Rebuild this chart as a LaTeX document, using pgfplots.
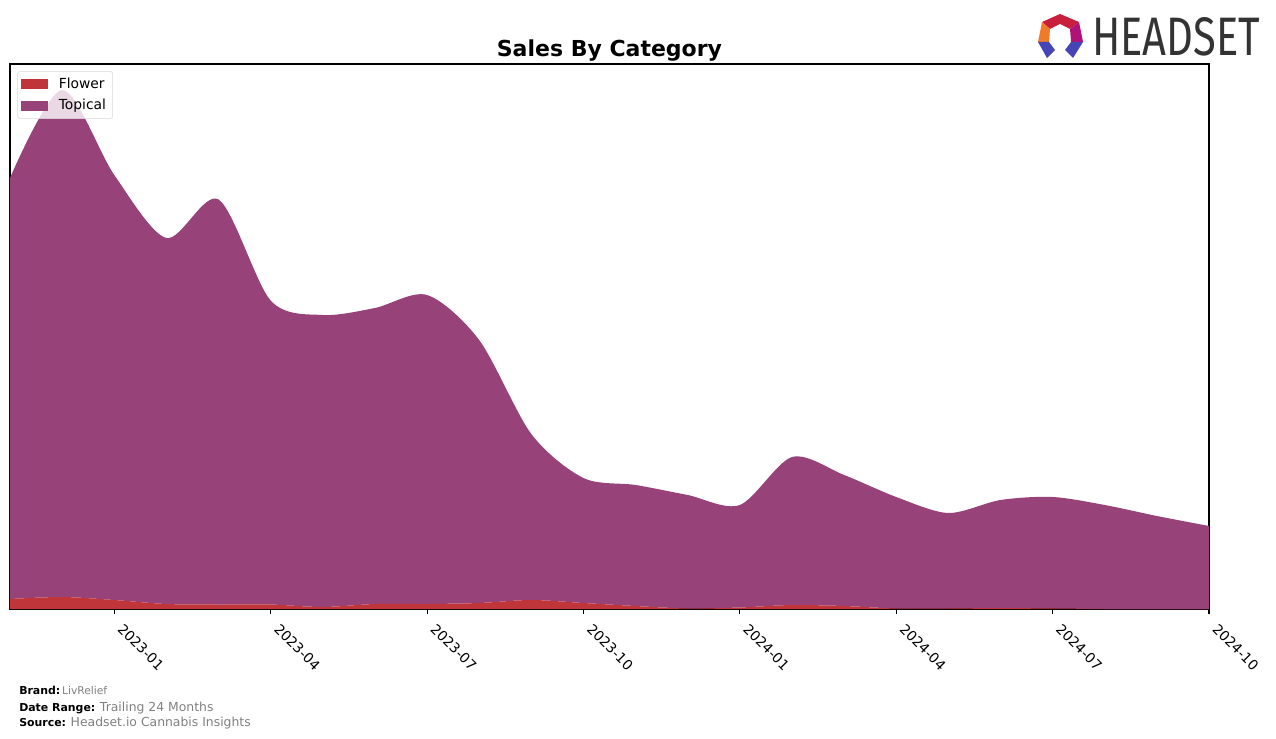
\documentclass[border=0pt]{standalone}
\usepackage{fontspec}
\setmainfont{DejaVu Sans}
\newfontfamily\logofont{Fira Sans}
\usepackage{pgfplots}
\pgfplotsset{compat=1.18}
\definecolor{topc}{HTML}{974278}
\definecolor{flowc}{HTML}{C0353A}
\definecolor{footgray}{HTML}{808080}
\definecolor{lgred}{HTML}{C8203C}
\definecolor{lgorange}{HTML}{F07A28}
\definecolor{lgmag}{HTML}{B0127A}
\definecolor{lgblue}{HTML}{4545B5}
\definecolor{lgtext}{HTML}{333333}
\pgfplotstableread{
i flower topical
0 10 421
1 12 507
2 9 425
3 5 366
4 4.5 405
5 4.5 304
6 2 292
7 5 296
8 5 309
9 6 263
10 9 166
11 6 125
12 3 121
13 0.5 113.5
14 1.5 102.5
15 4 148
16 3 131
17 0.5 111.5
18 0.5 95.5
19 1 108
20 0.5 111.5
21 0 104
22 0 93
23 0 83
}\datatable
\begin{document}
\begin{tikzpicture}
\useasboundingbox (-7.5pt,-96.75pt) rectangle (949.5pt,456.75pt);
\begin{axis}[
  at={(0pt,0pt)}, anchor=south west,
  scale only axis, width=899.25pt, height=408.75pt,
  xmin=0, xmax=23, ymin=0, ymax=545,
  stack plots=y,
  axis line style={black, line width=0.8pt},
  xtick={2,5,8,11,14,17,20,23},
  xticklabels={2023-01,2023-04,2023-07,2023-10,2024-01,2024-04,2024-07,2024-10},
  ytick=\empty,
  xtick pos=bottom,
  tick align=outside,
  major tick length=3.5pt,
  every tick/.style={black, line width=0.8pt},
  xticklabel style={font=\fontsize{10.4}{12}\selectfont, rotate=-45, anchor=north west, inner sep=1pt, xshift=9pt, yshift=1.5pt},
  legend style={at={(0.006,0.987)}, anchor=north west, draw=black!15, rounded corners=2pt, fill=white, fill opacity=0.8, text opacity=1, font=\fontsize{10.4}{12}\selectfont, row sep=2.6pt, inner xsep=3pt, inner ysep=3pt},
  legend cell align=left,
  clip=true,
]
\addplot[fill=flowc, draw=none, smooth, legend image code/.code={\fill[flowc, fill opacity=1, sharp corners] (1pt,-3.7pt) rectangle (21pt,3.7pt); \path (27pt,0pt);}] table[x=i, y=flower] {\datatable} \closedcycle;
\addlegendentry{Flower}
\addplot[fill=topc, draw=none, smooth, legend image code/.code={\fill[topc, fill opacity=1, sharp corners] (1pt,-3.7pt) rectangle (21pt,3.7pt); \path (27pt,0pt);}] table[x=i, y=topical] {\datatable} \closedcycle;
\addlegendentry{Topical}
\end{axis}
% title
\node[anchor=base, inner sep=0, font=\fontsize{16.5}{19}\selectfont\bfseries] at (449.6pt,414pt) {Sales By Category};
% footer
\node[anchor=base west, inner sep=0] at (6.75pt,-63.75pt) {\fontsize{8.2}{9}\selectfont\textbf{Brand:}\,{\color{footgray}\fontsize{8}{9}\selectfont LivRelief}};
\node[anchor=base west, inner sep=0] at (6.75pt,-76.5pt) {\fontsize{8.2}{9}\selectfont\textbf{Date Range:} {\color{footgray}\fontsize{9.3}{9}\selectfont Trailing 24 Months}};
\node[anchor=base west, inner sep=0] at (6.75pt,-87.75pt) {\fontsize{8.2}{9}\selectfont\textbf{Source:} {\color{footgray}\fontsize{9.3}{9}\selectfont Headset.io Cannabis Insights}};
% logo
\begin{scope}[x=0.75pt, y=-0.75pt, shift={(-10,-609)}]
\fill[lgred] (1042,22)--(1060,14)--(1079,22)--(1070,29)--(1060,24)--(1050,29)--cycle;
\fill[lgorange] (1042,22)--(1050,29)--(1049,42)--(1038,42)--cycle;
\fill[lgmag] (1079,22)--(1083,42)--(1071,42)--(1070,29)--cycle;
\fill[lgblue] (1038,42)--(1049,42)--(1055,50)--(1047,58)--cycle;
\fill[lgblue] (1071,42)--(1083,42)--(1073,58)--(1065,50)--cycle;
\node[anchor=south west, inner sep=0, text=lgtext] at (1092,56) {\resizebox{126pt}{28.5pt}{\logofont HEADSET}};
\end{scope}
\end{tikzpicture}
\end{document}
